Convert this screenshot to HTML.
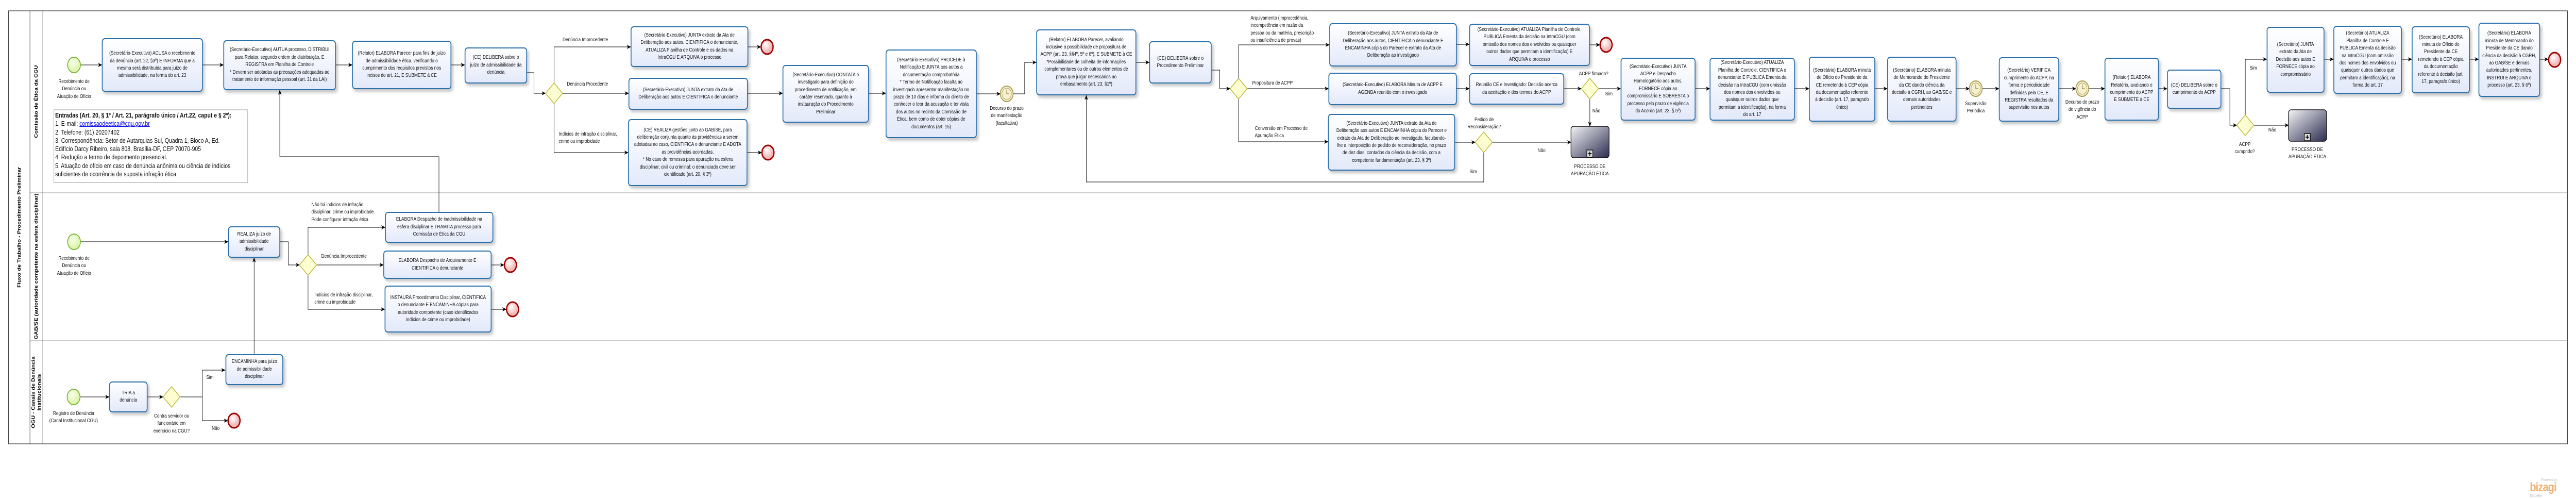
<!DOCTYPE html>
<html><head><meta charset="utf-8">
<style>
*{margin:0;padding:0}
html,body{width:100%;height:100%;overflow:hidden;background:#fff}
#root{position:fixed;left:0;top:0;width:100vw;height:100vh;display:block}
#w{position:relative;width:6021px;height:968px;overflow:hidden;font-family:"Liberation Sans",sans-serif}
#w svg{position:absolute;left:0;top:0}
.t{position:absolute;box-sizing:border-box;border:2px solid #2a70ad;border-radius:7px;background:linear-gradient(#ffffff,#e3e9fa);box-shadow:4px 5px 6px rgba(0,0,0,.22);display:flex;align-items:center;justify-content:center;text-align:center;font-size:10px;line-height:14.4px;color:#111;white-space:nowrap;overflow:hidden}
.l{position:absolute;font-size:10px;line-height:14.4px;color:#111;white-space:nowrap}
.c{transform:translateX(-50%);text-align:center}
.v{position:absolute;font-size:11px;font-weight:bold;white-space:nowrap;transform:translate(-50%,-50%) rotate(-90deg);text-align:center;line-height:14px}
</style></head><body>
<svg id="root" viewBox="0 0 6021 968" preserveAspectRatio="none" xmlns="http://www.w3.org/2000/svg">
<foreignObject x="0" y="0" width="6021" height="968">
<div xmlns="http://www.w3.org/1999/xhtml" id="w">
<svg width="6021" height="968" xmlns="http://www.w3.org/2000/svg">
<defs>
<marker id="a" markerWidth="10" markerHeight="8" refX="9" refY="4" orient="auto" markerUnits="userSpaceOnUse"><path d="M0,0 L10,4 L0,8 L3,4 z" fill="#000"/></marker>
<radialGradient id="eg" cx="40%" cy="35%"><stop offset="0" stop-color="#fff"/><stop offset="1" stop-color="#f2b8b8"/></radialGradient>
<radialGradient id="sg" cx="40%" cy="35%"><stop offset="0" stop-color="#fbfff0"/><stop offset="1" stop-color="#dff5b0"/></radialGradient>
<linearGradient id="pg" x1="0" y1="0" x2="1" y2="1"><stop offset="0" stop-color="#f4f4f6"/><stop offset="1" stop-color="#2a2c50"/></linearGradient>
</defs>
<rect x="20" y="21" width="5981" height="840" fill="none" stroke="#333" stroke-width="1.2"/>
<line x1="70" y1="21" x2="70" y2="861" stroke="#333"/>
<line x1="100" y1="21" x2="100" y2="861" stroke="#555" stroke-width=".8"/>
<line x1="70" y1="374" x2="6001" y2="374" stroke="#777" stroke-width=".8"/>
<line x1="70" y1="661" x2="6001" y2="661" stroke="#777" stroke-width=".8"/>
<g fill="none" stroke="#000" stroke-width="1" marker-end="url(#a)">
<path d="M188,126H238"/><path d="M474,126H522"/><path d="M785,126H823"/><path d="M1055,126H1086"/>
<path d="M1232,141H1248V181H1275"/>
<path d="M1295,161V91H1474"/><path d="M1315,181H1469"/><path d="M1295,201V296H1468"/>
<path d="M1749,91H1778"/><path d="M1748,181H1829"/><path d="M1747,296H1780"/>
<path d="M2031,181H2070"/><path d="M2283,182H2338"/><path d="M2368,182H2395V121H2422"/>
<path d="M2656,121H2686"/><path d="M2832,136H2851V172H2875"/>
<path d="M2895,152V87H3107"/><path d="M2915,172H3105"/><path d="M2895,192V275H3104"/>
<path d="M3405,86H3434"/><path d="M3716,87H3739"/><path d="M3405,172H3434"/><path d="M3656,172H3696"/>
<path d="M3736,172H3788"/><path d="M3716,192V245"/><path d="M3401,276H3448"/><path d="M3488,276H3672"/>
<path d="M3468,296V353H2539V185"/>
<path d="M3963,172H3996"/><path d="M4195,172H4228"/><path d="M4383,172H4411"/><path d="M4573,172H4603"/>
<path d="M4633,172H4672"/><path d="M4813,172H4852"/><path d="M4882,172H4919"/><path d="M5046,172H5065"/>
<path d="M5192,172H5212V243H5228"/><path d="M5248,223V115H5298"/><path d="M5268,243H5349"/>
<path d="M5433,115H5454"/><path d="M5614,115H5637"/><path d="M5773,115H5793"/><path d="M5937,115H5956"/>
<path d="M188,469H533"/><path d="M655,469H674V514H700"/>
<path d="M720,494V441H900"/><path d="M740,514H896"/><path d="M720,534V600H899"/>
<path d="M1149,514H1178"/><path d="M1149,600H1183"/>
<path d="M1026,411V304H654V175"/>
<path d="M187,770H255"/><path d="M345,770H381"/><path d="M421,770H473V718H526"/><path d="M473,770V816H532"/>
<path d="M594,687V500"/>
</g>
<g stroke="#7cb83c" stroke-width="2" fill="url(#sg)">
<circle cx="173" cy="126" r="15"/><circle cx="173" cy="469" r="15"/><circle cx="172" cy="770" r="15"/>
</g>
<g stroke="#a00000" stroke-width="3" fill="url(#eg)">
<circle cx="1793" cy="91" r="14"/><circle cx="1795" cy="296" r="14"/><circle cx="3754" cy="87" r="14"/>
<circle cx="1193" cy="514" r="14"/><circle cx="1198" cy="600" r="14"/><circle cx="547" cy="816" r="14"/>
<circle cx="5971" cy="116" r="14"/>
</g>
<g stroke="#b8b22e" stroke-width="1.5" fill="#fdfdd2">
<path d="M1295,161L1315,181L1295,201L1275,181z"/>
<path d="M2895,152L2915,172L2895,192L2875,172z"/>
<path d="M3716,152L3736,172L3716,192L3696,172z"/>
<path d="M3468,256L3488,276L3468,296L3448,276z"/>
<path d="M5248,223L5268,243L5248,263L5228,243z"/>
<path d="M720,494L740,514L720,534L700,514z"/>
<path d="M401,750L421,770L401,790L381,770z"/>
</g>
<g stroke="#a89a50" fill="#f6f0d0">
<circle cx="2353" cy="182" r="15" stroke-width="2"/><circle cx="2353" cy="182" r="11"/>
<circle cx="4618" cy="172" r="15" stroke-width="2"/><circle cx="4618" cy="172" r="11"/>
<circle cx="4867" cy="172" r="15" stroke-width="2"/><circle cx="4867" cy="172" r="11"/>
<path d="M2353,182V174M2353,182H2359M4618,172V164M4618,172H4624M4867,172V164M4867,172H4873" stroke="#7a6a30"/>
</g>
<g stroke="#111" stroke-width="1.5">
<rect x="3672" y="245" width="89" height="61" rx="6" fill="url(#pg)"/>
<rect x="5349" y="213" width="89" height="61" rx="6" fill="url(#pg)"/>
<rect x="3709" y="291" width="14" height="14" fill="#ddd"/><rect x="5386" y="259" width="14" height="14" fill="#ddd"/>
<path d="M3716,294V302M3712,298H3720M5393,262V270M5389,266H5397" stroke-width="2"/>
</g>
<rect x="126" y="213" width="453" height="141" fill="#fff" stroke="#999"/>
</svg>

<div class="v" style="left:45px;top:441px">Fluxo de Trabalho - Procedimento Preliminar</div>
<div class="v" style="left:85px;top:197px">Comissão de Ética da CGU</div>
<div class="v" style="left:85px;top:517px">GAB/SE (autoridade competente na esfera disciplinar)</div>
<div class="v" style="left:85px;top:761px">OGU - Canais de Denúncia<br/>Institucionais</div>

<div style="position:absolute;left:129px;top:216px;font-size:12.6px;line-height:16.3px;color:#111;white-space:nowrap"><b>Entradas (Art. 20, § 1º / Art. 21, parágrafo único / Art.22, caput e § 2º):</b><br/>1. E-mail: <span style="color:#00e;text-decoration:underline">comissaodeetica@cgu.gov.br</span><br/>2. Telefone: (61) 20207402<br/>3. Correspondência: Setor de Autarquias Sul, Quadra 1, Bloco A, Ed.<br/>Edifício Darcy Ribeiro, sala 808, Brasília-DF, CEP 70070-905<br/>4. Redução a termo de depoimento presencial.<br/>5. Atuação de ofício em caso de denúncia anônima ou ciência de indícios<br/>suficientes de ocorrência de suposta infração ética</div>

<div class="l c" style="left:173px;top:152px">Recebimento de<br/>Denúncia ou<br/>Atuação de Ofício</div>
<div class="l c" style="left:173px;top:495px">Recebimento de<br/>Denúncia ou<br/>Atuação de Ofício</div>
<div class="l c" style="left:172px;top:796px">Registro de Denúncia<br/>(Canal Institucional CGU)</div>
<div class="l c" style="left:401px;top:801px">Contra servidor ou<br/>funcionário em<br/>exercício na CGU?</div>
<div class="l" style="left:482px;top:726px">Sim</div>
<div class="l" style="left:495px;top:825px">Não</div>
<div class="l" style="left:728px;top:391px">Não há indícios de infração<br/>disciplinar, crime ou improbidade.<br/>Pode configurar infração ética</div>
<div class="l" style="left:751px;top:491px">Denúncia Improcedente</div>
<div class="l" style="left:735px;top:566px">Indícios de infração disciplinar,<br/>crime ou improbidade</div>
<div class="l" style="left:1315px;top:71px">Denúncia Improcedente</div>
<div class="l" style="left:1325px;top:157px">Denúncia Procedente</div>
<div class="l" style="left:1306px;top:254px">Indícios de infração disciplinar,<br/>crime ou improbidade</div>
<div class="l c" style="left:2353px;top:204px">Decurso do prazo<br/>de manifestação<br/>(facultativa)</div>
<div class="l" style="left:2923px;top:29px">Arquivamento (improcedência,<br/>incompetência em razão da<br/>pessoa ou da matéria, prescrição<br/>ou insuficiência de provas)</div>
<div class="l" style="left:2927px;top:155px">Propositura de ACPP</div>
<div class="l" style="left:2933px;top:243px">Conversão em Processo de<br/>Apuração Ética</div>
<div class="l c" style="left:3725px;top:137px">ACPP firmado?</div>
<div class="l" style="left:3752px;top:176px">Sim</div>
<div class="l" style="left:3722px;top:209px">Não</div>
<div class="l c" style="left:3716px;top:317px">PROCESSO DE<br/>APURAÇÃO ÉTICA</div>
<div class="l c" style="left:3469px;top:226px">Pedido de<br/>Reconsideração?</div>
<div class="l" style="left:3594px;top:286px">Não</div>
<div class="l" style="left:3435px;top:327px">Sim</div>
<div class="l c" style="left:4618px;top:195px">Supervisão<br/>Periódica</div>
<div class="l c" style="left:4867px;top:192px">Decurso do prazo<br/>de vigência do<br/>ACPP</div>
<div class="l c" style="left:5247px;top:274px">ACPP<br/>cumprido?</div>
<div class="l" style="left:5258px;top:126px">Sim</div>
<div class="l" style="left:5302px;top:246px">Não</div>
<div class="l c" style="left:5393px;top:284px">PROCESSO DE<br/>APURAÇÃO ÉTICA</div>

<div class="t" style="left:238px;top:74px;width:236px;height:104px">(Secretário-Executivo) ACUSA o recebimento<br/>da denúncia (art. 22, §3º) E INFORMA que a<br/>mesma será distribuída para juízo de<br/>admissibilidade, na forma do art. 23</div>
<div class="t" style="left:522px;top:78px;width:263px;height:97px">(Secretário-Executivo) AUTUA processo, DISTRIBUI<br/>para Relator, segundo ordem de distribuição, E<br/>REGISTRA em Planilha de Controle<br/>* Devem ser adotadas as precauções adequadas ao<br/>tratamento de informação pessoal (art. 31 da LAI)</div>
<div class="t" style="left:823px;top:79px;width:232px;height:94px">(Relator) ELABORA Parecer para fins de juízo<br/>de admissibilidade ética, verificando o<br/>cumprimento dos requisitos previstos nos<br/>incisos do art. 21, E SUBMETE à CE</div>
<div class="t" style="left:1086px;top:92px;width:146px;height:70px">(CE) DELIBERA sobre o<br/>juízo de admissibilidade da<br/>denúncia</div>
<div class="t" style="left:1474px;top:51px;width:275px;height:79px">(Secretário-Executivo) JUNTA extrato da Ata de<br/>Deliberação aos autos, CIENTIFICA o denunciante,<br/>ATUALIZA Planilha de Controle e os dados na<br/>IntraCGU E ARQUIVA o processo</div>
<div class="t" style="left:1469px;top:151px;width:279px;height:62px">(Secretário-Executivo) JUNTA extrato da Ata de<br/>Deliberação aos autos E CIENTIFICA o denunciante</div>
<div class="t" style="left:1468px;top:231px;width:279px;height:130px">(CE) REALIZA gestões junto ao GAB/SE, para<br/>deliberação conjunta quanto às providências a serem<br/>adotadas ao caso, CIENTIFICA o denunciante E ADOTA<br/>as providências acordadas.<br/>* No caso de remessa para apuração na esfera<br/>disciplinar, civil ou criminal: o denunciado deve ser<br/>cientificado (art. 20, § 3º)</div>
<div class="t" style="left:1829px;top:126px;width:202px;height:112px">(Secretário-Executivo) CONTATA o<br/>investigado para definição do<br/>procedimento de notificação, em<br/>caráter reservado, quanto à<br/>instauração do Procedimento<br/>Preliminar</div>
<div class="t" style="left:2070px;top:96px;width:213px;height:172px">(Secretário-Executivo) PROCEDE à<br/>Notificação E JUNTA aos autos a<br/>documentação comprobatória<br/>* Termo de Notificação faculta ao<br/>investigado apresentar manifestação no<br/>prazo de 10 dias e informa do direito de<br/>conhecer o teor da acusação e ter vista<br/>dos autos no recinto da Comissão de<br/>Ética, bem como de obter cópias de<br/>documentos (art. 15)</div>
<div class="t" style="left:2422px;top:57px;width:234px;height:128px">(Relator) ELABORA Parecer, avaliando<br/>inclusive a possibilidade de propositura de<br/>ACPP (art. 23, §§4º, 5º e 8º), E SUBMETE à CE<br/>*Possibilidade de colheita de informações<br/>complementares ou de outros elementos de<br/>prova que julgar necessários ao<br/>embasamento  (art. 23, §1º)</div>
<div class="t" style="left:2686px;top:80px;width:146px;height:82px">(CE) DELIBERA sobre o<br/>Procedimento Preliminar</div>
<div class="t" style="left:3107px;top:45px;width:298px;height:84px">(Secretário-Executivo) JUNTA extrato da Ata de<br/>Deliberação aos autos, CIENTIFICA o denunciante E<br/>ENCAMINHA cópia do Parecer e extrato da Ata de<br/>Deliberação ao investigado</div>
<div class="t" style="left:3434px;top:46px;width:282px;height:82px">(Secretário-Executivo) ATUALIZA Planilha de Controle,<br/>PUBLICA Ementa da decisão na IntraCGU (com<br/>omissão dos nomes dos envolvidos ou quaisquer<br/>outros dados que permitam a identificação) E<br/>ARQUIVA o processo</div>
<div class="t" style="left:3105px;top:141px;width:300px;height:63px">(Secretário-Executivo) ELABORA Minuta de ACPP E<br/>AGENDA reunião com o investigado</div>
<div class="t" style="left:3434px;top:142px;width:222px;height:61px">Reunião CE e Investigado: Decisão acerca<br/>da aceitação e dos termos do ACPP</div>
<div class="t" style="left:3104px;top:221px;width:297px;height:110px">(Secretário-Executivo) JUNTA extrato da Ata de<br/>Deliberação aos autos E ENCAMINHA cópia do Parecer e<br/>extrato da Ata de Deliberação ao investigado, facultando-<br/>lhe a interposição de pedido de reconsideração, no prazo<br/>de dez dias, contados da ciência da decisão, com a<br/>competente fundamentação (art. 23, § 3º)</div>
<div class="t" style="left:3788px;top:112px;width:175px;height:122px">(Secretário-Executivo) JUNTA<br/>ACPP e Despacho<br/>Homologatório aos autos,<br/>FORNECE cópia ao<br/>compromissário E SOBRESTA o<br/>processo pelo prazo de vigência<br/>do Acordo (art. 23, § 5º)</div>
<div class="t" style="left:3996px;top:112px;width:199px;height:122px">(Secretário-Executivo) ATUALIZA<br/>Planilha de Controle, CIENTIFICA o<br/>denunciante E PUBLICA Ementa da<br/>decisão na IntraCGU (com omissão<br/>dos nomes dos envolvidos ou<br/>quaisquer outros dados que<br/>permitam a identificação), na forma<br/>do art. 17</div>
<div class="t" style="left:4228px;top:110px;width:155px;height:126px">(Secretário) ELABORA minuta<br/>de Ofício do Presidente da<br/>CE remetendo à CEP cópia<br/>da documentação referente<br/>à decisão (art. 17, paragrafo<br/>único)</div>
<div class="t" style="left:4411px;top:110px;width:162px;height:126px">(Secretário) ELABORA minuta<br/>de Memorando do Presidente<br/>da CE dando ciência da<br/>decisão à CGRH, ao GAB/SE e<br/>demais autoridades<br/>pertinentes</div>
<div class="t" style="left:4672px;top:111px;width:141px;height:125px">(Secretário) VERIFICA<br/>cumprimento do ACPP, na<br/>forma e periodicidade<br/>definidas pela CE, E<br/>REGISTRA resultados da<br/>supervisão nos autos</div>
<div class="t" style="left:4919px;top:112px;width:127px;height:122px">(Relator) ELABORA<br/>Relatório, avaliando o<br/>cumprimento do ACPP<br/>E SUBMETE à CE</div>
<div class="t" style="left:5065px;top:135px;width:127px;height:76px">(CE) DELIBERA sobre o<br/>cumprimento do ACPP</div>
<div class="t" style="left:5298px;top:52px;width:135px;height:128px">(Secretário) JUNTA<br/>extrato da Ata de<br/>Decisão aos autos E<br/>FORNECE cópia ao<br/>compromissário</div>
<div class="t" style="left:5454px;top:50px;width:160px;height:132px">(Secretário)  ATUALIZA<br/>Planilha de Controle E<br/>PUBLICA Ementa da decisão<br/>na IntraCGU (com omissão<br/>dos nomes dos envolvidos ou<br/>quaisquer outros dados que<br/>permitam a identificação), na<br/>forma do art. 17</div>
<div class="t" style="left:5637px;top:51px;width:136px;height:130px">(Secretário) ELABORA<br/>minuta de Ofício do<br/>Presidente da CE<br/>remetendo à CEP cópia<br/>da documentação<br/>referente à decisão (art.<br/>17, paragrafo único)</div>
<div class="t" style="left:5793px;top:44px;width:144px;height:144px">(Secretário) ELABORA<br/>minuta de Memorando do<br/>Presidente da CE dando<br/>ciência da decisão à CGRH,<br/>ao GAB/SE e demais<br/>autoridades pertinentes,<br/>INSTRUI E ARQUIVA o<br/>processo (art. 23, § 6º)</div>

<div class="t" style="left:533px;top:439px;width:122px;height:61px">REALIZA juízo de<br/>admissibilidade<br/>disciplinar</div>
<div class="t" style="left:900px;top:411px;width:253px;height:60px">ELABORA Despacho de inadmissibilidade na<br/>esfera disciplinar E TRAMITA processo para<br/>Comissão de Ética da CGU</div>
<div class="t" style="left:896px;top:486px;width:253px;height:55px">ELABORA Despacho de Arquivamento E<br/>CIENTIFICA o denunciante</div>
<div class="t" style="left:899px;top:554px;width:250px;height:91px">INSTAURA Procedimento Disciplinar, CIENTIFICA<br/>o denunciante E ENCAMINHA cópias para<br/>autoridade competente (caso identificados<br/>indícios de crime ou improbidade)</div>
<div class="t" style="left:255px;top:740px;width:90px;height:60px">TRIA a<br/>denúncia</div>
<div class="t" style="left:527px;top:687px;width:135px;height:60px">ENCAMINHA para juízo<br/>de admissibilidade<br/>disciplinar</div>

<div style="position:absolute;left:5940px;top:928px;font-size:7px;color:#bbb">Powered by</div>
<div style="position:absolute;left:5913px;top:934px;font-size:24px;font-weight:bold;color:#f0b070;letter-spacing:-1px;line-height:24px">bizagi</div>
<div style="position:absolute;left:5913px;top:957px;font-size:8px;color:#bbb;line-height:9px">Modeler</div>
</div>
</foreignObject>
</svg>
</body></html>
